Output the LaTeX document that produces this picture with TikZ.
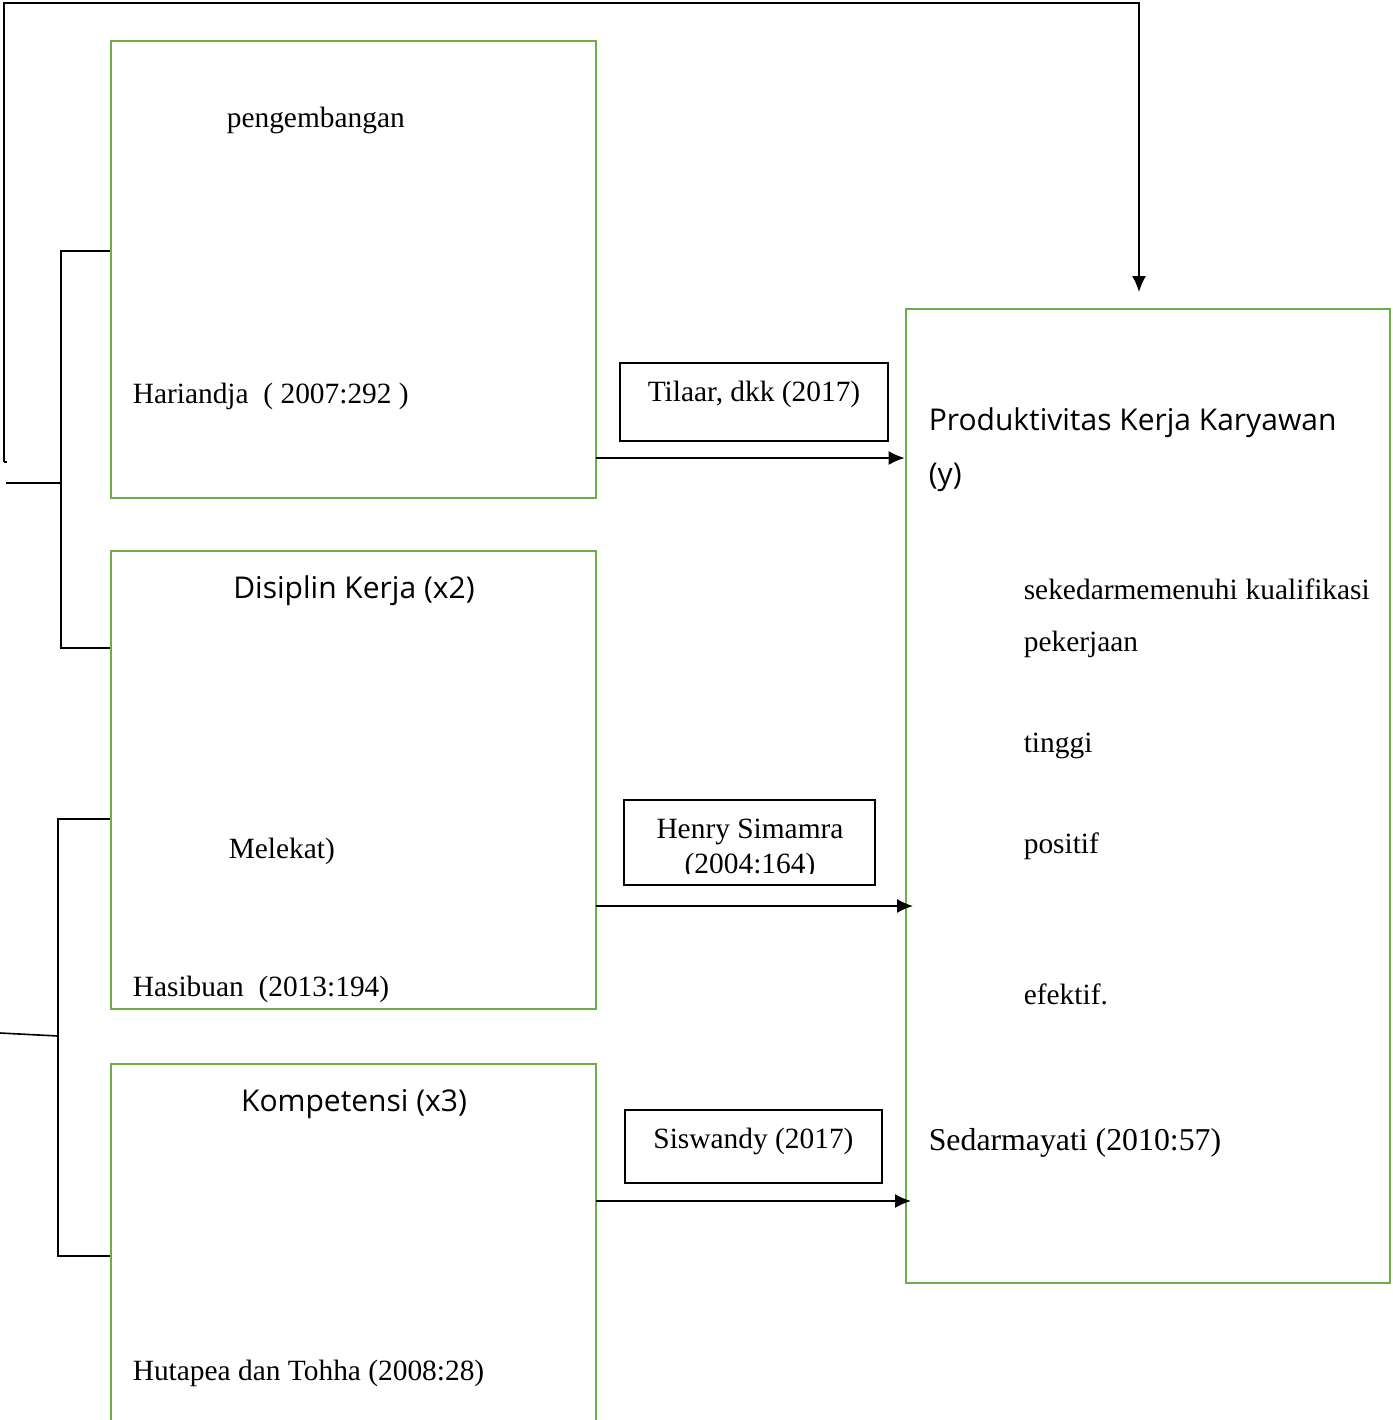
\documentclass[tikz,border=0pt]{standalone}
\usepackage{fontspec}
\setmainfont{Liberation Serif}
\newfontfamily\ysans{Open Sans}
\usetikzlibrary{arrows.meta}
\definecolor{boxgreen}{RGB}{112,173,71}
\def\s{0.5pt}
\def\punkt#1#2{({(#1)*\s},{-(#2)*\s})}
\tikzset{
  varbox/.style={draw=boxgreen,line width=1.4pt,minimum width=485*\s,inner sep=0},
  refbox/.style={draw,line width=1pt,inner sep=0},
  txt/.style={inner sep=0,anchor=base west,font=\fontsize{14.7}{17}\selectfont},
  stxt/.style={inner sep=0,anchor=base west,font=\ysans\fontsize{15}{18}\selectfont},
}

\begin{document}
\begin{tikzpicture}[>={Latex[length=8pt,width=7pt]},line width=0.8pt]
\useasboundingbox \punkt{0}{0} rectangle \punkt{1393}{1420};
\clip \punkt{0}{0} rectangle \punkt{1393}{1420};
% variable boxes
\node[varbox,minimum height=457*\s] (x1) at \punkt{353.5}{269.5} {};
\node[varbox,minimum height=458*\s] (x2) at \punkt{353.5}{780} {};
\node[varbox,minimum height=376*\s] (x3) at \punkt{353.5}{1252} {};
\node[varbox,minimum width=484*\s,minimum height=974*\s] (y) at \punkt{1148}{796} {};
% source boxes
\node[refbox,minimum width=268*\s,minimum height=78*\s] (r1) at \punkt{754}{402} {};
\node[refbox,minimum width=251*\s,minimum height=85*\s] (r2) at \punkt{749.5}{842.5} {};
\node[refbox,minimum width=257*\s,minimum height=73*\s] (r3) at \punkt{753.5}{1146.5} {};
% texts x1
\node[txt] (t11) at \punkt{226}{127} {pengembangan};
\node[txt] (t12) at \punkt{132}{403} {Hariandja\ \ ( 2007:292 )};
% texts x2
\node[stxt,anchor=base] (t21) at \punkt{354}{598} {Disiplin Kerja (x2)};
\node[txt] (t22) at \punkt{228}{858} {Melekat)};
\node[txt] (t23) at \punkt{132}{996} {Hasibuan\ \ (2013:194)};
% texts x3
\node[stxt,anchor=base] (t31) at \punkt{354}{1111} {Kompetensi (x3)};
\node[txt] (t32) at \punkt{132}{1380} {Hutapea dan Tohha (2008:28)};
% texts sources
\node[txt,anchor=base] (s1) at \punkt{754}{401} {Tilaar, dkk (2017)};
\node[txt,anchor=base] (s2) at \punkt{750}{838} {Henry Simamra};
\begin{scope}
\clip \punkt{624}{800} rectangle \punkt{875}{873};
\node[txt,anchor=base] (s2b) at \punkt{750}{873} {(2004:164)};
\end{scope}
\node[txt,anchor=base] (s3) at \punkt{753.5}{1148} {Siswandy (2017)};
% texts y
\node[stxt] (ty1) at \punkt{928}{430} {Produktivitas Kerja Karyawan};
\node[stxt] (ty2) at \punkt{928}{484} {(y)};
\node[txt] (ty3) at \punkt{1023}{599} {sekedarmemenuhi\hspace{4pt}kualifikasi};
\node[txt] (ty4) at \punkt{1023}{651} {pekerjaan};
\node[txt] (ty5) at \punkt{1023}{752} {tinggi};
\node[txt] (ty6) at \punkt{1023}{853} {positif};
\node[txt] (ty7) at \punkt{1023}{1004} {efektif.};
\node[txt,font=\fontsize{15.9}{18}\selectfont] (ty8) at \punkt{928}{1150} {Sedarmayati (2010:57)};
% arrows to y
\path \punkt{596}{458} coordinate (p1);
\path \punkt{596}{906} coordinate (p2);
\path \punkt{596}{1201} coordinate (p3);
\path \punkt{913}{906} coordinate (q2);
\path \punkt{911}{1201} coordinate (q3);
\draw[->] (p1) -- (p1 -| y.west);
\draw[->] (p2) -- (q2);
\draw[->] (p3) -- (q3);
% feedback line
\path \punkt{4}{462} coordinate (fb);
\path \punkt{7}{462} coordinate (fbend);
\path \punkt{4}{3} coordinate (fbtop);
\path \punkt{1139}{309} coordinate (yin);
\draw (fbend) -- (fb);
\draw[->,shorten >=8.5pt] (fb) -- (fbtop) -- (fbtop -| yin) -- (yin);
% brackets
\path \punkt{61}{251} coordinate (b1);
\path \punkt{61}{648} coordinate (b2);
\path \punkt{6}{483} coordinate (bin);
\draw (x1.west |- b1) -- (b1) -- (b2) -- (x2.west |- b2);
\draw (bin) -- (bin -| b1);
\path \punkt{58}{819} coordinate (c1);
\path \punkt{58}{1256} coordinate (c2);
\path \punkt{0}{1033} coordinate (cin);
\path \punkt{58}{1036} coordinate (cmid);
\draw (x2.west |- c1) -- (c1) -- (c2) -- (x3.west |- c2);
\draw (cin) -- (cmid);
\end{tikzpicture}
\end{document}
